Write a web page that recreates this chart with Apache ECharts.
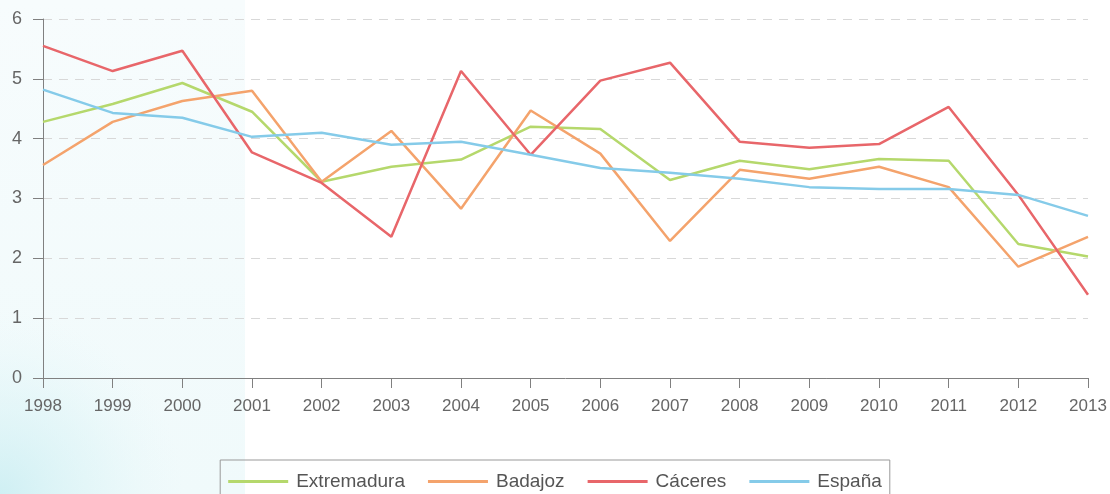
<!DOCTYPE html>
<html>
<head>
<meta charset="utf-8">
<script src="https://cdn.jsdelivr.net/npm/echarts@6/dist/echarts.min.js"></script>
<style>
  html, body { margin: 0; padding: 0; background: #ffffff; }
  #chart { width: 1110px; height: 494px; }
</style>
</head>
<body>
<div id="chart"></div>
<script>
// Años de la serie
const years = ['1998','1999','2000','2001','2002','2003','2004','2005','2006','2007','2008','2009','2010','2011','2012','2013'];

// Valores por territorio
const extremadura = [4.28, 4.58, 4.93, 4.45, 3.28, 3.53, 3.65, 4.20, 4.16, 3.31, 3.63, 3.49, 3.66, 3.63, 2.24, 2.03];
const badajoz     = [3.56, 4.28, 4.63, 4.80, 3.28, 4.13, 2.83, 4.47, 3.75, 2.29, 3.48, 3.33, 3.53, 3.19, 1.86, 2.36];
const caceres     = [5.55, 5.13, 5.47, 3.77, 3.26, 2.36, 5.13, 3.73, 4.97, 5.27, 3.95, 3.85, 3.91, 4.53, 3.06, 1.39];
const espana      = [4.82, 4.43, 4.35, 4.03, 4.10, 3.90, 3.95, 3.73, 3.51, 3.43, 3.33, 3.19, 3.16, 3.16, 3.06, 2.71];

const seriesNames = ['Extremadura', 'Badajoz', 'Cáceres', 'España'];
const seriesData = [extremadura, badajoz, caceres, espana];
const colors = ['#b5d86c', '#f4a36c', '#e8666a', '#85cbe9'];

const chart = echarts.init(document.getElementById('chart'), null, { renderer: 'canvas' });

const font = '"Liberation Sans", Arial, sans-serif';

chart.setOption({
  backgroundColor: '#ffffff',
  animation: false,
  color: colors,
  graphic: [
    // Panel decorativo a la izquierda
    {
      type: 'rect',
      z: -10,
      silent: true,
      shape: { x: 0, y: 0, width: 245, height: 494 },
      style: {
        fill: new echarts.graphic.LinearGradient(0, 0, 0, 1, [
          { offset: 0, color: '#f7fcfd' },
          { offset: 1, color: '#f0fafb' }
        ])
      }
    },
    {
      type: 'rect',
      z: -9,
      silent: true,
      shape: { x: 0, y: 0, width: 245, height: 494 },
      style: {
        fill: new echarts.graphic.RadialGradient(0, 1, 0.75, [
          { offset: 0, color: 'rgba(196,236,241,0.75)' },
          { offset: 0.55, color: 'rgba(214,242,245,0.4)' },
          { offset: 1, color: 'rgba(230,247,249,0)' }
        ])
      }
    }
  ],
  grid: {
    left: 43,
    right: 22,
    top: 19,
    bottom: 116,
    containLabel: false
  },
  legend: {
    data: seriesNames,
    left: 'center',
    top: 460,
    orient: 'horizontal',
    borderColor: '#999999',
    borderWidth: 1,
    padding: [12, 8, 30, 8],
    itemWidth: 60,
    itemHeight: 14,
    itemGap: 23,
    icon: 'path://M0,5.5 L60,5.5 L60,8.5 L0,8.5 Z',
    textStyle: { color: '#555555', fontSize: 19, fontFamily: font, padding: [0, 0, 0, 3] }
  },
  xAxis: {
    type: 'category',
    data: years,
    boundaryGap: false,
    axisLine: { lineStyle: { color: '#808080', width: 1 } },
    axisTick: { show: true, inside: false, length: 10, alignWithLabel: true, lineStyle: { color: '#808080' } },
    axisLabel: { color: '#666666', fontSize: 17, fontFamily: font, margin: 20, interval: 0 },
    splitLine: { show: false }
  },
  yAxis: {
    type: 'value',
    min: 0,
    max: 6,
    interval: 1,
    axisLine: { show: true, lineStyle: { color: '#808080', width: 1 } },
    axisTick: { show: true, inside: false, length: 10, lineStyle: { color: '#808080' } },
    axisLabel: { color: '#666666', fontSize: 18, fontFamily: font, margin: 21 },
    splitLine: { show: true, lineStyle: { color: '#d8d8d8', type: [9, 7], width: 1 } }
  },
  series: seriesNames.map((name, i) => ({
    name: name,
    type: 'line',
    data: seriesData[i],
    symbol: 'none',
    smooth: false,
    lineStyle: { width: 2.5, color: colors[i] },
    itemStyle: { color: colors[i] }
  }))
});
</script>
</body>
</html>
